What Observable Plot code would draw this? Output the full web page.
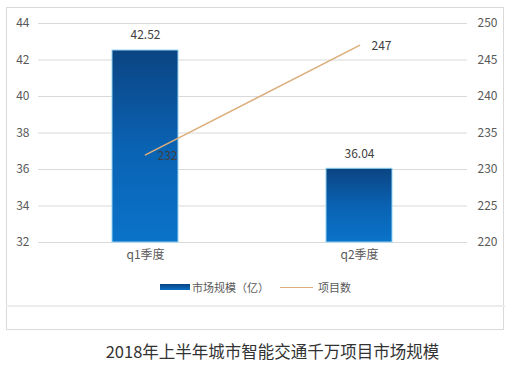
<!DOCTYPE html>
<html>
<head>
<meta charset="utf-8">
<script src="https://cdn.jsdelivr.net/npm/d3@7"></script>
<script src="https://cdn.jsdelivr.net/npm/@observablehq/plot@0.6"></script>
<style>
  body { margin: 0; background: #fff; font-family: "Noto Sans CJK SC", "Noto Sans", sans-serif; }
  #wrap { position: relative; width: 513px; height: 365px; overflow: hidden; }
  #frame { position: absolute; left: 6px; top: 7px; width: 498px; height: 323px; border: 1px solid #d9d9d9; box-sizing: border-box; }
  #sep { position: absolute; left: 6px; top: 305px; width: 499px; height: 2px; background: #ececec; }
  #chart { position: absolute; left: 0; top: 0; }
  #legend { position: absolute; left: 0; top: 279px; width: 513px; height: 16px; font-size: 11px; color: #595959; }
  #legend .sw { position: absolute; }
  #legend .lb { position: absolute; top: 0; line-height: 16px; white-space: nowrap; }
  #title { position: absolute; left: 0; top: 340px; width: 545px; text-align: center; font-size: 16.5px; color: #333; line-height: 22px; white-space: nowrap; }
</style>
</head>
<body>
<div id="wrap">
  <div id="frame"></div>
  <div id="sep"></div>
  <div id="chart"></div>
  <div id="legend">
    <div class="sw" style="left:160px;top:5px;width:30px;height:6px;background:linear-gradient(#0b4583,#0a6ec4);"></div>
    <div class="lb" style="left:192px;">市场规模（亿）</div>
    <div class="sw" style="left:280px;top:7.5px;width:33px;height:1.5px;background:#dcae7c;"></div>
    <div class="lb" style="left:318px;">项目数</div>
  </div>
  <div id="title">2018年上半年城市智能交通千万项目市场规模</div>
</div>
<script>
const categories = ["q1季度", "q2季度"];
const marketSize = [42.52, 36.04];
const projectCount = [232, 247];
const leftTicks = [32, 34, 36, 38, 40, 42, 44];
const rightTicks = [220, 225, 230, 235, 240, 245, 250];

const lMin = 32, lMax = 44, rMin = 220, rMax = 250;
const toLeft = v => lMin + (v - rMin) * (lMax - lMin) / (rMax - rMin);
const toRight = v => rMin + (v - lMin) * (rMax - rMin) / (lMax - lMin);

const rows = categories.map((c, i) => ({cat: c, size: marketSize[i], count: projectCount[i], countL: toLeft(projectCount[i])}));

const gradient = () => {
  const defs = d3.create("svg:defs");
  const g = defs.append("linearGradient").attr("id", "barGrad").attr("x1", 0).attr("y1", 0).attr("x2", 0).attr("y2", 1);
  g.append("stop").attr("offset", "0%").attr("stop-color", "#0b4482");
  g.append("stop").attr("offset", "50%").attr("stop-color", "#0a62b2");
  g.append("stop").attr("offset", "100%").attr("stop-color", "#0a73c9");
  return defs.node();
};

const chart = Plot.plot({
  width: 513,
  height: 270,
  marginTop: 23,
  marginBottom: 28,
  marginLeft: 38,
  marginRight: 46,
  style: { fontFamily: "'Noto Sans CJK SC', 'Noto Sans', sans-serif", fontSize: "12px", color: "#595959", background: "transparent" },
  x: { type: "band", domain: categories, paddingInner: 0.69, paddingOuter: 0.345, label: null },
  y: { domain: [lMin, lMax], label: null },
  marks: [
    gradient,
    Plot.ruleY(leftTicks, { stroke: "#d9d9d9", strokeWidth: 1 }),
    Plot.axisY(leftTicks, { anchor: "left", tickSize: 0, tickPadding: 9, label: null, fill: "#595959" }),
    Plot.axisY(rightTicks.map(toLeft), { anchor: "right", tickSize: 0, tickPadding: 10, textAnchor: "start", tickFormat: d => String(Math.round(toRight(d))), label: null, fill: "#595959" }),
    Plot.axisX({ tickSize: 0, tickPadding: 8, label: null, fill: "#595959" }),
    Plot.barY(rows, { x: "cat", y1: lMin, y2: "size", fill: "url(#barGrad)", stroke: "#8fd3f2", strokeWidth: 1 }),
    Plot.text(rows, { x: "cat", y: "size", text: d => d.size.toFixed(2), dy: -15, fill: "#404040", fontSize: 12 }),
    Plot.lineY(rows, { x: "cat", y: "countL", stroke: "#dcae7c", strokeWidth: 1.6 }),
    Plot.text(rows, { x: "cat", y: "countL", text: d => String(d.count), dx: 22, dy: 1, textAnchor: "middle", fill: "#404040", fontSize: 12 })
  ]
});
document.getElementById("chart").appendChild(chart);
</script>
</body>
</html>
